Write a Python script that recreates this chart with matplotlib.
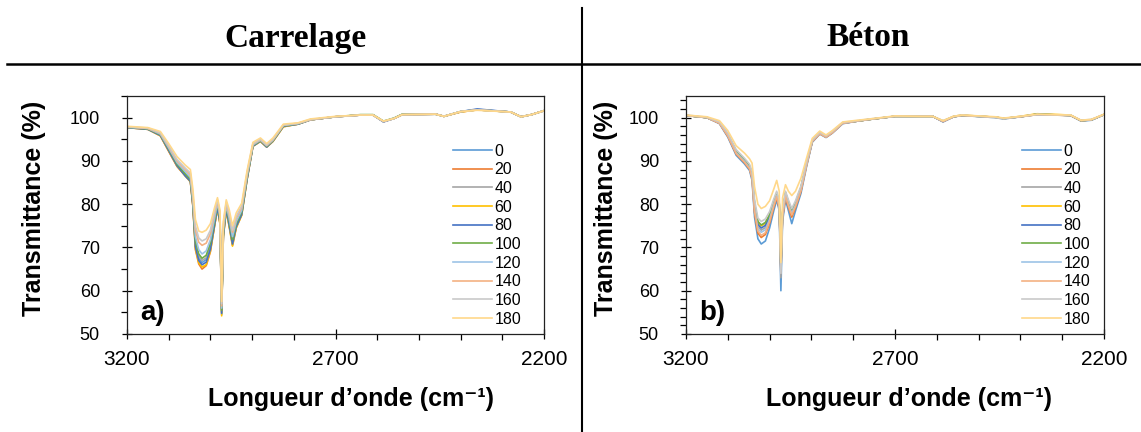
import numpy as np
import matplotlib
matplotlib.use('Agg')
import matplotlib.pyplot as plt
from matplotlib.lines import Line2D
from matplotlib.ticker import MultipleLocator, FixedLocator

plt.rcParams['font.family'] = ['Liberation Sans', 'DejaVu Sans']

# wavenumbers (cm-1), shared by both panels
wn = [3200, 3150, 3120, 3100, 3080, 3060, 3048, 3042, 3036, 3028, 3020, 3010, 3000, 2990, 2983,
      2977, 2973, 2969, 2962, 2955, 2947, 2938, 2925, 2912, 2898, 2880, 2865, 2850, 2825, 2790,
      2760, 2700, 2640, 2610, 2585, 2560, 2540, 2460, 2440, 2400, 2360, 2280, 2255, 2230, 2200]

labels = ['0', '20', '40', '60', '80', '100', '120', '140', '160', '180']
colors = ['#5B9BD5', '#ED7D31', '#A5A5A5', '#FFC000', '#4472C4', '#70AD47',
          '#9DC3E6', '#F4B183', '#C9C9C9', '#FFD88A']

# Carrelage
carr_0 = [97.8, 97.4, 96.0, 92.5, 89.0, 86.8, 85.5, 80.0, 70.5, 67.5, 66.5, 67.2, 70.0, 75.5, 79.5, 76.0, 54.5, 73.0, 79.0, 75.5, 71.0, 75.0, 77.8, 86.0, 93.5, 94.6, 93.3, 94.6, 98.0, 98.5, 99.5, 100.2, 100.6, 100.6, 99.1, 99.8, 100.7, 100.8, 100.3, 101.4, 101.9, 101.3, 100.2, 100.7, 101.6]
carr_20 = [97.7, 97.3, 95.8, 92.2, 88.7, 86.5, 85.2, 79.5, 69.5, 66.2, 65.0, 65.8, 69.0, 75.0, 79.0, 75.5, 55.0, 72.5, 78.6, 75.0, 70.5, 74.6, 77.5, 85.8, 93.4, 94.5, 93.2, 94.5, 97.9, 98.5, 99.5, 100.2, 100.6, 100.6, 99.1, 99.8, 100.7, 100.8, 100.3, 101.3, 101.8, 101.3, 100.2, 100.7, 101.6]
carr_40 = [97.8, 97.4, 96.1, 92.7, 89.2, 87.0, 85.7, 80.3, 71.0, 68.0, 67.0, 67.6, 70.5, 75.8, 79.8, 76.3, 55.5, 73.3, 79.2, 75.8, 71.5, 75.3, 78.0, 86.2, 93.6, 94.7, 93.4, 94.7, 98.1, 98.5, 99.5, 100.2, 100.6, 100.6, 99.1, 99.8, 100.7, 100.8, 100.3, 101.4, 101.8, 101.3, 100.2, 100.7, 101.6]
carr_60 = [97.7, 97.3, 95.8, 92.3, 88.8, 86.5, 85.2, 79.6, 69.8, 66.5, 65.5, 66.0, 69.2, 75.0, 79.0, 75.4, 54.2, 72.4, 78.5, 74.8, 70.3, 74.5, 77.4, 85.7, 93.4, 94.5, 93.2, 94.5, 97.9, 98.5, 99.5, 100.2, 100.6, 100.6, 99.1, 99.8, 100.7, 100.8, 100.3, 101.3, 101.8, 101.3, 100.2, 100.7, 101.6]
carr_80 = [97.7, 97.3, 95.9, 92.4, 88.9, 86.5, 85.3, 79.8, 70.2, 67.0, 66.0, 66.6, 69.6, 75.2, 79.3, 75.7, 54.8, 72.7, 78.8, 75.2, 70.8, 74.8, 77.6, 85.8, 93.4, 94.6, 93.2, 94.6, 98.0, 98.5, 99.5, 100.2, 100.6, 100.6, 99.0, 99.8, 100.7, 100.8, 100.3, 101.4, 102.0, 101.3, 100.2, 100.7, 101.6]
carr_100 = [97.8, 97.4, 96.1, 92.8, 89.3, 87.0, 85.8, 80.6, 71.5, 68.5, 67.5, 68.2, 71.0, 76.2, 80.0, 76.6, 55.5, 73.6, 79.4, 76.2, 71.8, 75.5, 78.2, 86.3, 93.6, 94.7, 93.4, 94.7, 98.1, 98.6, 99.5, 100.2, 100.7, 100.7, 99.2, 99.9, 100.8, 100.8, 100.3, 101.4, 101.8, 101.3, 100.2, 100.7, 101.6]
carr_120 = [97.8, 97.5, 96.2, 93.0, 89.6, 87.5, 86.2, 81.0, 72.5, 69.5, 68.5, 69.2, 71.8, 76.8, 80.3, 77.0, 56.0, 74.0, 79.7, 76.8, 72.5, 76.0, 78.6, 86.6, 93.7, 94.8, 93.5, 94.8, 98.2, 98.6, 99.5, 100.2, 100.6, 100.6, 99.1, 99.8, 100.7, 100.8, 100.3, 101.4, 101.8, 101.3, 100.2, 100.7, 101.6]
carr_140 = [97.9, 97.5, 96.4, 93.3, 90.0, 88.0, 86.8, 81.8, 74.0, 71.2, 70.5, 71.0, 73.2, 77.8, 80.8, 77.6, 56.5, 74.8, 80.2, 77.6, 73.5, 76.8, 79.2, 87.0, 93.9, 94.9, 93.6, 94.9, 98.3, 98.7, 99.5, 100.2, 100.6, 100.6, 99.1, 99.8, 100.7, 100.8, 100.3, 101.4, 101.8, 101.3, 100.2, 100.7, 101.6]
carr_160 = [97.9, 97.6, 96.5, 93.5, 90.3, 88.3, 87.2, 82.3, 75.0, 72.2, 71.5, 72.0, 74.0, 78.4, 81.0, 78.0, 57.0, 75.3, 80.5, 78.0, 74.0, 77.2, 79.6, 87.3, 94.0, 95.0, 93.7, 95.0, 98.3, 98.7, 99.6, 100.2, 100.6, 100.6, 99.1, 99.8, 100.7, 100.8, 100.3, 101.4, 101.8, 101.3, 100.2, 100.7, 101.6]
carr_180 = [98.0, 97.7, 96.8, 94.0, 91.0, 89.0, 88.0, 83.5, 76.5, 73.8, 73.5, 74.0, 75.5, 79.2, 81.5, 78.6, 57.5, 76.0, 81.0, 78.8, 75.0, 78.0, 80.2, 87.8, 94.3, 95.3, 94.0, 95.3, 98.5, 98.8, 99.7, 100.3, 100.6, 100.6, 99.2, 99.8, 100.7, 100.8, 100.3, 101.4, 101.7, 101.3, 100.2, 100.7, 101.6]

# Béton
bet_0 = [100.5, 100.0, 98.6, 95.5, 91.3, 89.3, 87.8, 85.5, 77.0, 72.0, 70.8, 71.5, 74.5, 78.5, 81.0, 78.5, 60.0, 76.0, 81.0, 78.5, 75.5, 78.5, 82.5, 88.5, 94.3, 96.2, 95.4, 96.4, 98.6, 99.2, 99.6, 100.3, 100.3, 100.3, 99.0, 100.2, 100.5, 100.1, 99.8, 100.2, 100.8, 100.5, 99.2, 99.4, 100.7]
bet_20 = [100.5, 100.0, 98.7, 95.7, 91.6, 89.6, 88.1, 86.0, 78.0, 73.3, 72.3, 73.0, 75.6, 79.3, 81.5, 79.0, 64.0, 76.8, 81.6, 79.3, 77.0, 79.2, 83.0, 88.8, 94.4, 96.3, 95.5, 96.5, 98.7, 99.2, 99.6, 100.3, 100.3, 100.3, 99.1, 100.2, 100.5, 100.1, 99.8, 100.2, 100.7, 100.5, 99.3, 99.5, 100.7]
bet_40 = [100.5, 100.0, 98.8, 96.0, 92.0, 90.0, 88.5, 86.6, 79.2, 74.8, 74.0, 74.6, 76.8, 80.2, 82.2, 79.8, 63.0, 77.6, 82.3, 80.0, 78.0, 79.8, 83.5, 89.0, 94.5, 96.4, 95.6, 96.6, 98.7, 99.2, 99.6, 100.3, 100.3, 100.3, 99.2, 100.2, 100.5, 100.0, 99.7, 100.2, 100.7, 100.5, 99.3, 99.5, 100.7]
bet_60 = [100.5, 100.0, 98.8, 96.1, 92.2, 90.2, 88.7, 87.0, 80.0, 75.8, 75.0, 75.6, 77.5, 80.6, 82.5, 80.2, 66.0, 78.0, 82.6, 80.4, 78.5, 80.2, 83.8, 89.2, 94.6, 96.4, 95.6, 96.6, 98.8, 99.2, 99.6, 100.3, 100.3, 100.3, 99.2, 100.3, 100.6, 100.1, 99.8, 100.3, 100.9, 100.6, 99.3, 99.5, 100.7]
bet_80 = [100.5, 100.0, 98.8, 96.0, 92.1, 90.1, 88.6, 86.8, 79.7, 75.3, 74.5, 75.1, 77.2, 80.4, 82.4, 80.0, 65.0, 77.8, 82.4, 80.2, 78.0, 80.0, 83.6, 89.1, 94.5, 96.4, 95.6, 96.6, 98.7, 99.2, 99.6, 100.3, 100.3, 100.3, 99.1, 100.2, 100.5, 100.1, 99.8, 100.2, 100.8, 100.5, 99.3, 99.5, 100.7]
bet_100 = [100.5, 100.0, 98.9, 96.2, 92.3, 90.3, 88.8, 87.1, 80.2, 76.0, 75.2, 75.8, 77.6, 80.7, 82.6, 80.3, 65.5, 78.1, 82.7, 80.5, 78.5, 80.3, 83.9, 89.3, 94.6, 96.5, 95.7, 96.7, 98.8, 99.2, 99.6, 100.3, 100.3, 100.3, 99.2, 100.2, 100.5, 100.1, 99.8, 100.2, 100.8, 100.5, 99.3, 99.5, 100.7]
bet_120 = [100.5, 100.0, 98.8, 95.9, 91.9, 89.9, 88.4, 86.4, 79.0, 74.3, 73.5, 74.1, 76.5, 80.0, 82.0, 79.6, 66.0, 77.5, 82.2, 79.8, 78.0, 79.8, 83.4, 89.0, 94.5, 96.4, 95.6, 96.6, 98.7, 99.2, 99.6, 100.3, 100.3, 100.3, 99.1, 100.2, 100.5, 100.0, 99.7, 100.2, 100.7, 100.5, 99.3, 99.5, 100.7]
bet_140 = [100.5, 100.0, 98.7, 95.8, 91.7, 89.7, 88.2, 86.2, 78.5, 73.8, 72.8, 73.4, 76.0, 79.6, 81.8, 79.3, 65.0, 77.2, 82.0, 79.6, 77.5, 79.5, 83.2, 88.9, 94.5, 96.3, 95.5, 96.5, 98.7, 99.2, 99.6, 100.3, 100.3, 100.3, 99.1, 100.2, 100.5, 100.1, 99.8, 100.2, 100.7, 100.5, 99.3, 99.5, 100.7]
bet_160 = [100.6, 100.1, 99.0, 96.4, 92.6, 90.6, 89.2, 87.6, 81.0, 76.8, 76.0, 76.6, 78.3, 81.2, 83.0, 80.8, 64.0, 78.6, 83.0, 81.0, 79.0, 80.8, 84.2, 89.6, 94.8, 96.6, 95.8, 96.8, 98.9, 99.3, 99.7, 100.3, 100.3, 100.3, 99.3, 100.3, 100.6, 100.1, 99.8, 100.3, 100.7, 100.6, 99.4, 99.6, 100.7]
bet_180 = [100.6, 100.2, 99.3, 97.0, 93.5, 91.8, 90.5, 89.5, 84.0, 80.0, 79.0, 79.5, 80.8, 83.5, 85.5, 83.0, 66.5, 81.5, 84.5, 83.0, 82.0, 83.0, 86.0, 90.5, 95.2, 96.9, 96.0, 97.0, 99.0, 99.4, 99.7, 100.4, 100.3, 100.3, 99.3, 100.3, 100.6, 100.2, 99.9, 100.3, 100.8, 100.6, 99.4, 99.6, 100.8]

carrelage = [carr_0, carr_20, carr_40, carr_60, carr_80, carr_100, carr_120, carr_140, carr_160, carr_180]
beton = [bet_0, bet_20, bet_40, bet_60, bet_80, bet_100, bet_120, bet_140, bet_160, bet_180]

W, H = 1141, 432
fig = plt.figure(figsize=(W/100, H/100), dpi=100)

def px(x, y):
    return x/W, 1 - y/H

def panel(x0, x1, series, yminor, tag, legx):
    ax = fig.add_axes([x0/W, 1 - 334/H, (x1 - x0)/W, 238/H])
    for s, c, l in zip(series, colors, labels):
        ax.plot(wn, s, color=c, lw=1.2, label=l)
    ax.set_xlim(3200, 2200)
    ax.set_ylim(50, 105)
    ax.xaxis.set_major_locator(FixedLocator([3200, 2700, 2200]))
    ax.xaxis.set_minor_locator(MultipleLocator(100))
    ax.yaxis.set_major_locator(FixedLocator([50, 60, 70, 80, 90, 100]))
    ax.yaxis.set_minor_locator(MultipleLocator(yminor))
    ax.tick_params(which='major', direction='inout', length=7, width=0.9)
    ax.tick_params(which='minor', direction='out', length=4.5, width=0.9)
    ax.tick_params(axis='x', which='major', pad=8, labelsize=15)
    ax.tick_params(axis='y', which='major', pad=16, labelsize=13)
    for sp in ax.spines.values():
        sp.set_linewidth(0.9)
        sp.set_color('#222222')
    ax.text(0.032, 0.09, tag, transform=ax.transAxes, fontsize=20, fontweight='bold', va='center')
    ax.legend(loc='upper left', bbox_to_anchor=(legx, 0.80), frameon=False, fontsize=11.5,
              handlelength=2.45, handletextpad=0.15, labelspacing=0.23, borderpad=0, borderaxespad=0)
    return ax

panel(127, 544, carrelage, 5, 'a)', 0.782)
panel(686, 1104, beton, 2, 'b)', 0.804)

# labels
xlab = 'Longueur d\u2019onde (cm\u207b\u00b9)'
fig.text(*px(34, 208), 'Transmittance (%)', rotation=90, ha='center', va='center', fontsize=18, fontweight='bold')
fig.text(*px(606, 208), 'Transmittance (%)', rotation=90, ha='center', va='center', fontsize=18, fontweight='bold')
fig.text(*px(351, 399), xlab, ha='center', va='center', fontsize=18, fontweight='bold')
fig.text(*px(909, 399), xlab, ha='center', va='center', fontsize=18, fontweight='bold')

# titles and separators
fig.text(*px(295, 38), 'Carrelage', ha='center', va='center', fontsize=24, fontweight='bold', family='Liberation Serif')
fig.text(*px(868, 38), 'Béton', ha='center', va='center', fontsize=24, fontweight='bold', family='Liberation Serif')
fig.add_artist(Line2D([7/W, 1], [1 - 64/H, 1 - 64/H], transform=fig.transFigure, color='black', lw=1.8))
fig.add_artist(Line2D([582/W, 582/W], [1 - 8/H, 0], transform=fig.transFigure, color='black', lw=1.5))

fig.savefig('out.png', dpi=100)
